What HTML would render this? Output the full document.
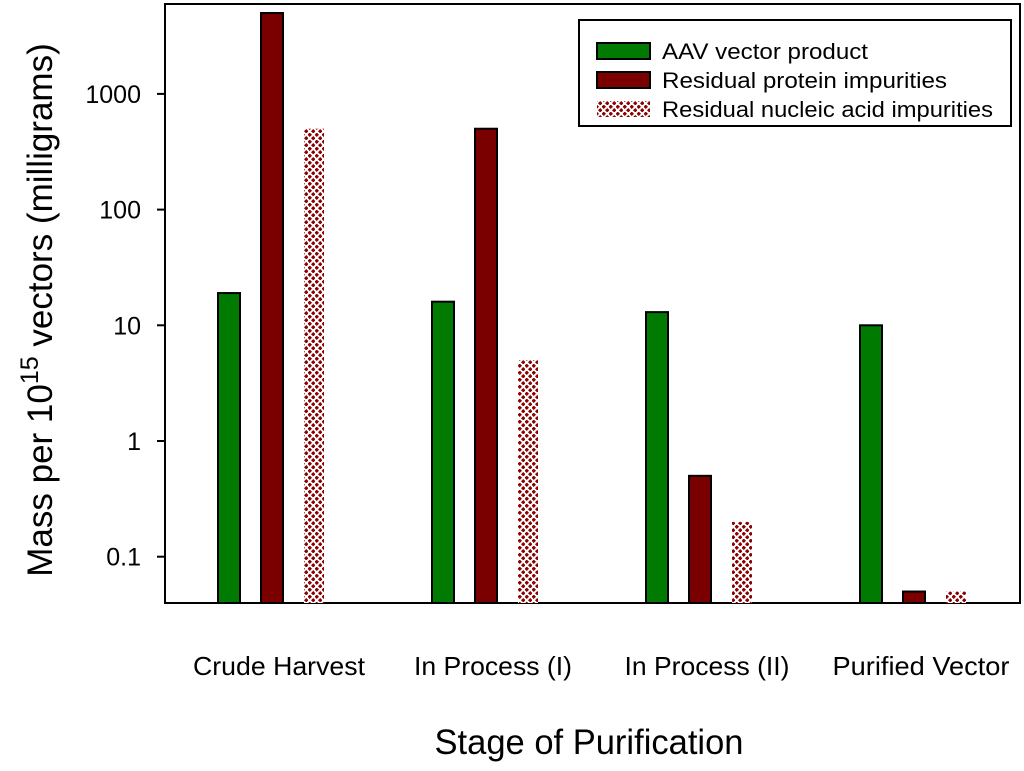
<!DOCTYPE html>
<html><head><meta charset="utf-8"><style>
body{margin:0;background:#fff;}
svg text{font-family:"Liberation Sans",Arial,sans-serif;fill:#000;}
</style></head><body>
<svg id="chart" width="1024" height="766" viewBox="0 0 1024 766">
<defs>
<pattern id="dots" width="7" height="7" patternUnits="userSpaceOnUse">
<rect width="7" height="7" fill="#fff"/>
<path d="M1.75 -0.5 L4 1.75 L1.75 4 L-0.5 1.75Z M5.25 3 L7.5 5.25 L5.25 7.5 L3 5.25Z" fill="#8b0000"/>
</pattern>
</defs>
<g id="plot"></g>
</svg>
<script>
const categories=["Crude Harvest","In Process (I)","In Process (II)","Purified Vector"];
const aavValues=[19,16,13,10];
const proteinValues=[5000,500,0.5,0.05];
const nucleicValues=[500,5,0.2,0.05];
const yTicks=[0.1,1,10,100,1000];
const yTickLabels=["0.1","1","10","100","1000"];
const seriesNames=["AAV vector product","Residual protein impurities","Residual nucleic acid impurities"];

const NS="http://www.w3.org/2000/svg";
const g=document.getElementById('plot');
const L=165,R=1020,T=4,B=603;
const decade=115.7;
function y(v){return 441-Math.log10(v)*decade;}
function gx(i){return 229+i*214;}
function el(tag,a,txt){const e=document.createElementNS(NS,tag);for(const k in a)e.setAttribute(k,a[k]);if(txt!==undefined)e.textContent=txt;g.appendChild(e);return e;}

const frame=el('rect',{x:L,y:T,width:R-L,height:B-T,fill:'none',stroke:'#000','stroke-width':2});



yTicks.forEach((t,i)=>{
 const ln=el('line',{x1:L-8,x2:L,y1:y(t),y2:y(t),stroke:'#000','stroke-width':2});
 
 
 const tx=el('text',{x:141,y:y(t)+9,'text-anchor':'end','font-size':25},yTickLabels[i]);
 
 
});

const series=[{v:aavValues,f:'#007a00',s:'#000',w:22,off:0},{v:proteinValues,f:'#7a0000',s:'#000',w:22,off:43},{v:nucleicValues,f:'url(#dots)',s:'none',w:20,off:86}];
series.forEach((s,si)=>{
 s.v.forEach((v,i)=>{
  const x=gx(i)-11+s.off;
  const r=el('rect',{x:x,y:y(v),width:s.w,height:B-y(v),fill:s.f,stroke:s.s,'stroke-width':2});
  
  
 });
});

const catW=[172,158,165,177];
categories.forEach((c,i)=>{
 const t=el('text',{x:gx(i)+50,y:675,'text-anchor':'middle','font-size':26,textLength:catW[i],lengthAdjust:'spacingAndGlyphs'},c);
 
 
});

const xt=el('text',{x:589,y:754,'text-anchor':'middle','font-size':35,textLength:309,lengthAdjust:'spacingAndGlyphs'},'Stage of Purification');



const yt=el('text',{transform:'translate(52,310) rotate(-90)','text-anchor':'middle','font-size':35});


yt.innerHTML='Mass per 10<tspan dy="-14" font-size="25">15</tspan><tspan dy="14"> vectors (milligrams)</tspan>';

const lb=el('rect',{x:579,y:20,width:432,height:106,fill:'#fff',stroke:'#000','stroke-width':2});


const fills=['#007a00','#7a0000','url(#dots)'];
const legW=[206,285,331];
seriesNames.forEach((n,i)=>{
 const cy=51+i*29;
 const sw=el('rect',{x:597,y:cy-8,width:53,height:16,fill:fills[i],stroke:i<2?'#000':'none','stroke-width':2});
 
 
 const t=el('text',{x:662,y:cy+8,'font-size':22,textLength:legW[i],lengthAdjust:'spacingAndGlyphs'},n);
 
 
});
</script>
</body></html>
